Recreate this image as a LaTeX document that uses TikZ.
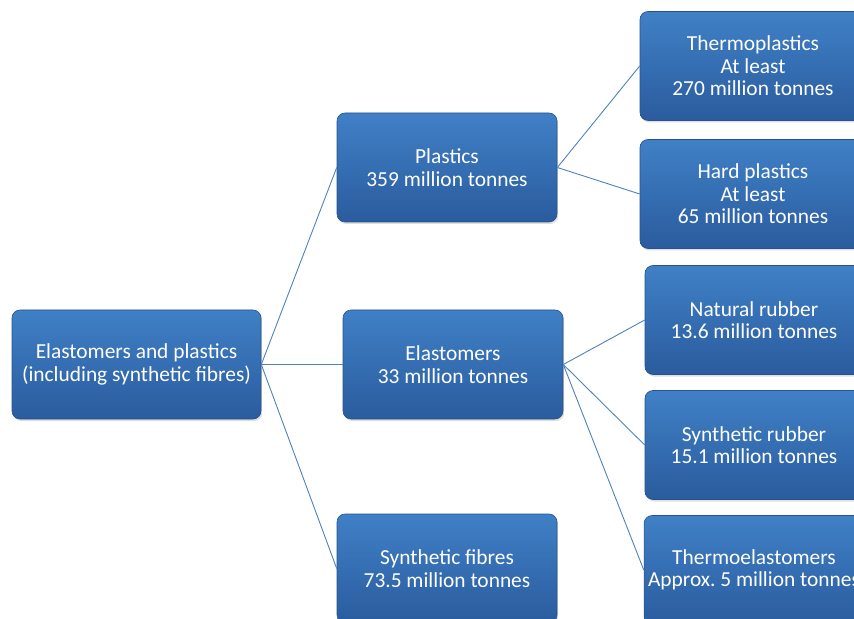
\documentclass[tikz,border=0pt]{standalone}
\usepackage{fontspec}
\setmainfont{Carlito}
\usetikzlibrary{shadows}

\definecolor{boxtop}{RGB}{64,128,198}
\definecolor{boxbot}{RGB}{42,92,158}
\definecolor{linkblue}{RGB}{79,129,189}

\tikzset{
  mengebox/.style={rounded corners=4pt, top color=boxtop, bottom color=boxbot,
    draw=boxbot!90!black, line width=0.3pt, text=white, align=center,
    minimum height=54.5pt, inner sep=2pt,
    font=\fontsize{10.7}{11.2}\selectfont,
    drop shadow={shadow xshift=0.6pt, shadow yshift=-1pt, opacity=0.25}},
  link/.style={draw=linkblue, line width=0.45pt}
}

\begin{document}
\begin{tikzpicture}[x=0.5pt,y=-0.5pt]

  % Rahmen
  \useasboundingbox (0,0) rectangle (854,619);
  \clip (0,0) rectangle (854,619);

  % Wurzel
  \node[mengebox, minimum width=124.5pt] (gesamt) at (136.5,364.5)
    {Elastomers and plastics\\(including synthetic fibres)};

  % mittlere Ebene
  \node[mengebox, minimum width=110pt] (plastik) at (447,167.5)
    {Plastics\\359 million tonnes};
  \node[mengebox, minimum width=110pt] (elast) at (453,364.5)
    {Elastomers\\33 million tonnes};
  \node[mengebox, minimum width=110pt] (fasern) at (447,568.5)
    {Synthetic fibres\\73.5 million tonnes};

  % rechte Ebene
  \node[mengebox, minimum width=113pt] (thermo) at (753,66)
    {Thermoplastics\\At least\\270 million tonnes};
  \node[mengebox, minimum width=113pt] (hart) at (753,194)
    {Hard plastics\\At least\\65 million tonnes};
  \node[mengebox, minimum width=109pt] (natur) at (754,320)
    {Natural rubber\\13.6 million tonnes};
  \node[mengebox, minimum width=109pt] (synkau) at (754,445)
    {Synthetic rubber\\15.1 million tonnes};
  \node[mengebox, minimum width=109pt] (tpe) at (754,570)
    {Thermoelastomers\\Approx.\ 5 million tonnes};

  % Verbindungen
  \draw[link] (gesamt.east) -- (plastik.west);
  \draw[link] (gesamt.east) -- (elast.west);
  \draw[link] (gesamt.east) -- (fasern.west);
  \draw[link] (plastik.east) -- (thermo.west);
  \draw[link] (plastik.east) -- (hart.west);
  \draw[link] (elast.east) -- (natur.west);
  \draw[link] (elast.east) -- (synkau.west);
  \draw[link] (elast.east) -- (tpe.west);

\end{tikzpicture}
\end{document}
